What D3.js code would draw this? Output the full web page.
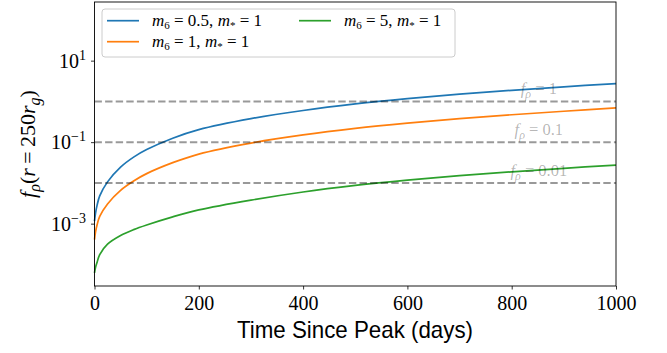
<!DOCTYPE html>
<html>
<head>
    <script src="https://d3js.org/d3.v7.min.js"></script>
    <style>
        body { margin: 0; background: #fff; }
        .tick text { font-family: "Liberation Serif", serif; font-size: 20px; fill: #000; }
        .tick line { stroke: #000; stroke-width: 0.8; }
    </style>
</head>
<body>
<svg width="667" height="353"></svg>
<script>
    // time since peak (days) and f_rho
    var days    = [0, 2, 5, 10, 25, 50, 75, 100, 150, 200, 300, 400, 500, 600, 700, 800, 900, 1000];
    var fBlue   = [0.00115, 0.00182, 0.00285, 0.00479, 0.0106, 0.0244, 0.0429, 0.0657, 0.125, 0.203, 0.378, 0.599, 0.866, 1.168, 1.504, 1.873, 2.283, 2.745];
    var fOrange = [0.000407, 0.00063, 0.00094, 0.00151, 0.00305, 0.00657, 0.01115, 0.0169, 0.0314, 0.051, 0.095, 0.1505, 0.2175, 0.293, 0.378, 0.4705, 0.573, 0.69];
    var fGreen  = [0.0000617, 0.0000851, 0.0001135, 0.000174, 0.000313, 0.00051, 0.000712, 0.000928, 0.00147, 0.002175, 0.00378, 0.00599, 0.00866, 0.01168, 0.01504, 0.01873, 0.02283, 0.02745];

    var m6 = ["0.5", "1", "5"];
    var colors = ["#1f77b4", "#ff7f0e", "#2ca02c"];

    var levels = [1, 0.1, 0.01];
    var levelLabels = ["1", "0.1", "0.01"];
    var labelAt = 852;

    var xTicks = [0, 200, 400, 600, 800, 1000];
    var yTicks = [10, 0.1, 0.001];
    var yExp = ["1", "\u22121", "\u22123"];
    var yLim = [2.95e-5, 275];

    var svg = d3.select("svg");
    var pL = 94.5, pR = 616, pT = 2, pB = 286;

    var x = d3.scaleLinear().domain([0, 1000]).range([pL, pR]);
    var y = d3.scaleLog().domain(yLim).range([pB, pT]);

    var line = d3.line()
        .x(function(d){ return x(d[0]); })
        .y(function(d){ return y(d[1]); })
        .curve(d3.curveCatmullRom.alpha(0.5));

    var series = [fBlue, fOrange, fGreen];

    svg.append("g").selectAll("path")
        .data(series)
        .enter().append("path")
        .attr("d", function(s){ return line(days.map(function(t, i){ return [t, s[i]]; })); })
        .attr("fill", "none")
        .attr("stroke", function(d, i){ return colors[i]; })
        .attr("stroke-width", 1.7);

    // reference levels
    svg.append("g").selectAll("line")
        .data(levels)
        .enter().append("line")
        .attr("x1", pL).attr("x2", pR)
        .attr("y1", function(d){ return y(d); })
        .attr("y2", function(d){ return y(d); })
        .attr("stroke", "#000")
        .attr("stroke-opacity", 0.4)
        .attr("stroke-width", 2)
        .attr("stroke-dasharray", "7.4,3.2");

    var ann = svg.append("g").selectAll("text")
        .data(levels)
        .enter().append("text")
        .attr("x", x(labelAt))
        .attr("y", function(d){ return y(d) - 7; })
        .attr("text-anchor", "middle")
        .attr("font-family", "Liberation Serif, serif")
        .attr("font-size", 16.5)
        .attr("fill", "#000")
        .attr("fill-opacity", 0.3);
    ann.append("tspan").attr("font-style", "italic").text("f");
    ann.append("tspan").attr("font-style", "italic").attr("font-size", 12).attr("dy", 4).text("\u03c1");
    ann.append("tspan").attr("dy", -4).text(function(d, i){ return " = " + levelLabels[i]; });

    // axes
    var xAxis = svg.append("g")
        .attr("transform", "translate(0," + pB + ")")
        .call(d3.axisBottom(x).tickValues(xTicks).tickSize(3.5).tickPadding(6).tickFormat(d3.format("d")));
    xAxis.select(".domain").remove();

    var yAxis = svg.append("g")
        .attr("transform", "translate(" + pL + ",0)")
        .call(d3.axisLeft(y).tickValues(yTicks).tickSize(3.5).tickPadding(5));
    yAxis.select(".domain").remove();
    yAxis.selectAll(".tick text").each(function(d, i){
        var t = d3.select(this).text("");
        t.append("tspan").text("10");
        t.append("tspan").attr("font-size", 14).attr("dy", -8).text(yExp[i]);
    });

    svg.append("rect")
        .attr("x", pL).attr("y", pT)
        .attr("width", pR - pL).attr("height", pB - pT)
        .attr("fill", "none").attr("stroke", "#000").attr("stroke-width", 0.9);

    svg.append("text")
        .attr("x", 237).attr("y", 338)
        .attr("font-family", "Liberation Sans, sans-serif")
        .attr("font-size", 24)
        .attr("textLength", 236)
        .attr("lengthAdjust", "spacingAndGlyphs")
        .text("Time Since Peak (days)");

    var yl = svg.append("text")
        .attr("transform", "translate(35," + (pT + pB) / 2 + ") rotate(-90)")
        .attr("text-anchor", "middle")
        .attr("font-family", "Liberation Serif, serif")
        .attr("font-size", 22);
    yl.append("tspan").attr("font-style", "italic").text("f");
    yl.append("tspan").attr("font-style", "italic").attr("font-size", 16).attr("dy", 5).text("\u03c1");
    yl.append("tspan").attr("dy", -5).text("(");
    yl.append("tspan").attr("font-style", "italic").text("r");
    yl.append("tspan").text("\u2009=\u2009250");
    yl.append("tspan").attr("font-style", "italic").text("r");
    yl.append("tspan").attr("font-style", "italic").attr("font-size", 16).attr("dy", 5).text("g");
    yl.append("tspan").attr("dy", -5).text(")");

    // legend
    var lg = svg.append("g");
    lg.append("rect")
        .attr("x", 102).attr("y", 9).attr("width", 353).attr("height", 48).attr("rx", 3)
        .attr("fill", "#fff").attr("fill-opacity", 0.8)
        .attr("stroke", "#ccc").attr("stroke-width", 1);

    var pos = [[107, 20.7], [107, 41.7], [299, 20.7]];
    var item = lg.selectAll("g.item")
        .data(m6)
        .enter().append("g")
        .attr("transform", function(d, i){ return "translate(" + pos[i][0] + "," + pos[i][1] + ")"; });
    item.append("line")
        .attr("x1", 0).attr("x2", 32)
        .attr("stroke", function(d, i){ return colors[i]; })
        .attr("stroke-width", 1.7);
    var lt = item.append("text")
        .attr("x", 45).attr("y", 5.5)
        .attr("font-family", "Liberation Serif, serif")
        .attr("font-size", 17);
    lt.append("tspan").attr("font-style", "italic").text("m");
    lt.append("tspan").attr("font-size", 11).attr("dy", 2.5).text("6");
    lt.append("tspan").attr("dy", -2.5).text(function(d){ return " = " + d + ",  "; });
    lt.append("tspan").attr("font-style", "italic").text("m");
    lt.append("tspan").attr("font-size", 11).attr("dy", 2.5).text("*");
    lt.append("tspan").attr("dy", -2.5).text(" = 1");
</script>
</body>
</html>
